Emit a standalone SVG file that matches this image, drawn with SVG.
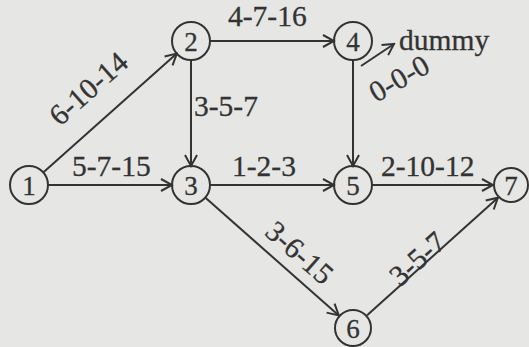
<svg xmlns="http://www.w3.org/2000/svg" width="529" height="347" viewBox="0 0 529 347">
<defs>
<style>
.node circle{fill:none;stroke:#333;stroke-width:2}
.node text{font-family:"Liberation Serif","Times New Roman",serif;font-size:27px;fill:#333;stroke:#333;stroke-width:0.3;text-anchor:middle}
.edge{stroke:#333;stroke-width:2;fill:none;marker-end:url(#arr)}
.lbl{font-family:"Liberation Serif","Times New Roman",serif;font-size:29.5px;fill:#333;stroke:#333;stroke-width:0.3}
</style>
<marker id="arr" markerUnits="userSpaceOnUse" markerWidth="16" markerHeight="16" viewBox="0 0 16 16" refX="14" refY="8" orient="auto">
<path d="M3,2 L14,8 L3,14" fill="none" stroke="#333" stroke-width="2"/>
</marker>
</defs>
<rect width="529" height="347" fill="#e6e6e4"/>
<g id="connectors">
<line class="edge" x1="43.2" y1="172.4" x2="176.8" y2="53.6"/>
<line class="edge" x1="48" y1="185" x2="172" y2="185"/>
<line class="edge" x1="210" y1="41" x2="334" y2="41"/>
<line class="edge" x1="191" y1="60" x2="191" y2="166"/>
<line class="edge" x1="210" y1="185" x2="334" y2="185"/>
<line class="edge" x1="353" y1="60" x2="353" y2="166"/>
<line class="edge" x1="372" y1="185" x2="493" y2="185"/>
<line class="edge" x1="205.2" y1="197.6" x2="338.8" y2="315.4"/>
<line class="edge" x1="367.1" y1="315.3" x2="497.9" y2="197.7"/>
<line class="edge" x1="361" y1="66" x2="394" y2="44"/>
<text class="lbl" transform="translate(95,96) rotate(-41.6)" text-anchor="middle">6-10-14</text>
<text class="lbl" x="72" y="176">5-7-15</text>
<text class="lbl" x="228" y="26">4-7-16</text>
<text class="lbl" x="194" y="116">3-5-7</text>
<text class="lbl" x="232" y="176">1-2-3</text>
<text class="lbl" x="381" y="176">2-10-12</text>
<text class="lbl" x="399" y="50">dummy</text>
<text class="lbl" transform="translate(404,87) rotate(-30)" text-anchor="middle">0-0-0</text>
<text class="lbl" transform="translate(293,260) rotate(41.4)" text-anchor="middle">3-6-15</text>
<text class="lbl" transform="translate(424,266) rotate(-42)" text-anchor="middle">3-5-7</text>
</g>
<g id="n1" class="node"><circle cx="29" cy="185" r="19"/><text x="29" y="194.5">1</text></g>
<g id="n2" class="node"><circle cx="191" cy="41" r="19"/><text x="191" y="50.5">2</text></g>
<g id="n3" class="node"><circle cx="191" cy="185" r="19"/><text x="191" y="194.5">3</text></g>
<g id="n4" class="node"><circle cx="353" cy="41" r="19"/><text x="353" y="50.5">4</text></g>
<g id="n5" class="node"><circle cx="353" cy="185" r="19"/><text x="353" y="194.5">5</text></g>
<g id="n6" class="node"><circle cx="353" cy="328" r="18"/><text x="353" y="337.5">6</text></g>
<g id="n7" class="node"><circle cx="511" cy="185" r="17"/><text x="511" y="194.5">7</text></g>
</svg>
